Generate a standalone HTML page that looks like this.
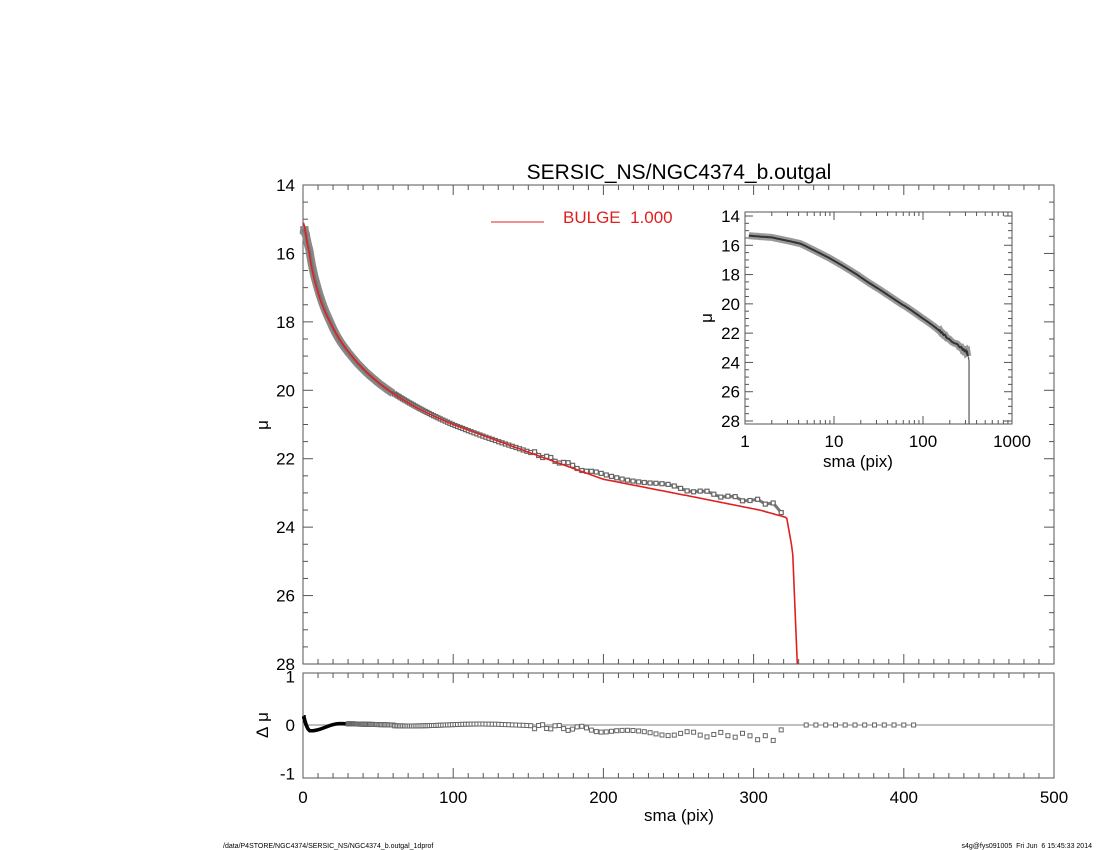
<!DOCTYPE html>
<html><head><meta charset="utf-8"><style>
body{margin:0;background:#fff}
svg{display:block;font-family:"Liberation Sans",sans-serif}
</style></head><body>
<svg id="s" width="1100" height="850" xmlns="http://www.w3.org/2000/svg">
<text x="679" y="179" font-size="21" text-anchor="middle">SERSIC_NS/NGC4374_b.outgal</text>
<line x1="491" y1="222" x2="544" y2="222" stroke="#e02020" stroke-width="1"/>
<text x="563" y="223" font-size="17" fill="#e02020">BULGE&#160;&#160;1.000</text>
<text x="679" y="821" font-size="17" text-anchor="middle">sma (pix)</text>
<text transform="translate(268,425) rotate(-90)" font-size="17" text-anchor="middle">μ</text>
<text transform="translate(268,725) rotate(-90)" font-size="17" text-anchor="middle">Δ&#160;μ</text>
<text transform="translate(712,318) rotate(-90)" font-size="17" text-anchor="middle">μ</text>
<text x="858" y="467" font-size="17" text-anchor="middle">sma (pix)</text>
<text x="223" y="848" font-size="7">/data/P4STORE/NGC4374/SERSIC_NS/NGC4374_b.outgal_1dprof</text>
<text x="1092" y="848" font-size="7" text-anchor="end">s4g@fys091005&#160;&#160;Fri Jun&#160;&#160;6 15:45:33 2014</text>
<g id="g"></g>
</svg>
<script>
var g=document.getElementById('g'),h='';
function L(x1,y1,x2,y2,c,w){h+='<line x1="'+x1+'" y1="'+y1+'" x2="'+x2+'" y2="'+y2+'" stroke="'+(c||'#555')+'" stroke-width="'+(w||1)+'"/>';}
function T(x,y,t,a){h+='<text x="'+x+'" y="'+y+'" font-size="17" text-anchor="'+(a||'middle')+'">'+t+'</text>';}
var K=[[0.3,15.1],[1,15.2],[2,15.45],[4.2,16],[9,17],[18,18],[32.6,19],[57,20],[100,21],[162,22],[200,22.6],[264,23.15],[304,23.5],[322,23.72],[326,24.7],[330,29]];
function M(r){if(r<=K[0][0])return K[0][1];for(var i=1;i<K.length;i++){if(r<=K[i][0]){var a=K[i-1],b=K[i];var t=(r-a[0])/(b[0]-a[0]);if(r<100)t=(Math.log(r)-Math.log(a[0]))/(Math.log(b[0])-Math.log(a[0]));return a[1]+t*(b[1]-a[1]);}}return 29;}
function R(r){var v;if(r<5)v=-0.12+0.37*Math.pow(1-r/5,2);else if(r<25)v=-0.12+0.15*(1-Math.cos(Math.PI*(r-5)/20))/2;else if(r<60)v=0.03-0.03*(r-25)/35;else if(r<150)v=0.02*Math.sin(r/15);else if(r<250)v=-0.02-0.16*(r-150)/100;else if(r<300)v=-0.18-0.04*(r-250)/50;else if(r<317)v=-0.27;else v=-0.1;
 if(r>150&&r<317)v+=0.05*Math.sin(r*1.7);return v;}
var X0=303,X1=1054,Y0=185,Y1=664;
function mx(r){return X0+r*(X1-X0)/500;}function my(m){return Y0+(m-14)*(Y1-Y0)/14;}
h+='<rect x="'+X0+'" y="'+Y0+'" width="'+(X1-X0)+'" height="'+(Y1-Y0)+'" fill="none" stroke="#555"/>';
for(var r=0;r<=500;r+=10){var maj=r%100==0,l=maj?10:5;L(mx(r),Y0,mx(r),Y0+l);L(mx(r),Y1,mx(r),Y1-l);}
for(var m=14;m<=28;m+=0.5){var maj=m%2==0,l=maj?10:5;L(X0,my(m),X0+l,my(m));L(X1,my(m),X1-l,my(m));if(maj)T(X0-8,my(m)+6,m,'end');}
var RY0=673,RY1=778;function ry(v){return 725-v*48.5;}
h+='<rect x="'+X0+'" y="'+RY0+'" width="'+(X1-X0)+'" height="'+(RY1-RY0)+'" fill="none" stroke="#555"/>';
for(var r=0;r<=500;r+=10){var maj=r%100==0,l=maj?10:5;L(mx(r),RY0,mx(r),RY0+l);L(mx(r),RY1,mx(r),RY1-l);}
[1,0,-1].forEach(function(v){T(X0-8,ry(v)+6,v,'end');});
for(var r=0;r<=500;r+=100)T(mx(r),803,r);
L(X0,725,X1,725,'#aaa',1.5);
var rs=[];for(var r=0.5;r<323;r*=1.017)rs.push(r);
var pth='';for(var i=0;i<rs.length;i++){var r=rs[i];var d=M(r)+R(r);pth+=(i?'L':'M')+mx(r).toFixed(1)+' '+my(d).toFixed(1);}
var pin='';for(var i=0;i<rs.length;i++){var r=rs[i];if(r>60)break;pin+=(i?'L':'M')+mx(r).toFixed(1)+' '+my(M(r)+R(r)).toFixed(1);}
h+='<path d="'+pin+'" fill="none" stroke="#888" stroke-width="8"/>';
h+='<path d="'+pth+'" fill="none" stroke="#777" stroke-width="3"/>';
rs.forEach(function(r){if(r>60){var d=M(r)+R(r);h+='<rect x="'+(mx(r)-2).toFixed(1)+'" y="'+(my(d)-2).toFixed(1)+'" width="4" height="4" fill="#fff" stroke="#666" stroke-width="1.2"/>';}});
var mp='';for(var r=0.3;r<=330;r+=(r<20?0.3:1)){mp+=(mp?'L':'M')+mx(r).toFixed(1)+' '+Math.min(my(M(r)),Y1).toFixed(1);}
h+='<path d="'+mp+'" fill="none" stroke="#e02020" stroke-width="1.6"/>';
var rp='';rs.forEach(function(r){if(r<=30)rp+=(rp?'L':'M')+mx(r).toFixed(1)+' '+ry(R(r)).toFixed(1);});
h+='<path d="'+rp+'" fill="none" stroke="#000" stroke-width="3.5"/>';
rs.forEach(function(r){if(r>30)h+='<rect x="'+(mx(r)-2).toFixed(1)+'" y="'+(ry(R(r))-2).toFixed(1)+'" width="4" height="4" fill="#fff" stroke="#666" stroke-width="1"/>';});
for(var r=335;r<=410;r+=6.5)h+='<rect x="'+(mx(r)-2).toFixed(1)+'" y="723" width="4" height="4" fill="#fff" stroke="#666" stroke-width="1"/>';
var IX0=745,IX1=1012,IY0=212,IY1=424;function ix(r){return IX0+Math.log10(r)*(IX1-IX0)/3;}function iy(m){return 216+(m-14)*(421-216)/14;}
h+='<rect x="'+IX0+'" y="'+IY0+'" width="'+(IX1-IX0)+'" height="'+(IY1-IY0)+'" fill="#fff" stroke="#555"/>';
for(var d=1;d<=100;d*=10)for(var k=1;k<=10;k++){var r=d*k,l=k==1||k==10?8:4;L(ix(r),IY0,ix(r),IY0+l);L(ix(r),IY1,ix(r),IY1-l);}
[1,10,100,1000].forEach(function(r){T(ix(r),447,r);});
for(var m=14;m<=28;m+=0.5){var maj=m%2==0,l=maj?8:4;L(IX0,iy(m),IX0+l,iy(m));L(IX1,iy(m),IX1-l,iy(m));if(maj)T(IX0-5,iy(m)+6,m,'end');}
var ip='';rs.forEach(function(r){if(r>=1.1)ip+=(ip?'L':'M')+ix(r).toFixed(1)+' '+iy(M(r)+R(r)).toFixed(1);});
h+='<path d="'+ip+'" fill="none" stroke="#999" stroke-width="7"/>';
h+='<path d="'+ip+'" fill="none" stroke="#333" stroke-width="2"/>';
L(ix(323),iy(23.6),ix(329),iy(23.9),'#555',1.2);L(ix(329),iy(23.9),ix(329),IY1,'#555',1.2);
g.innerHTML=h;
</script>
</body></html>
